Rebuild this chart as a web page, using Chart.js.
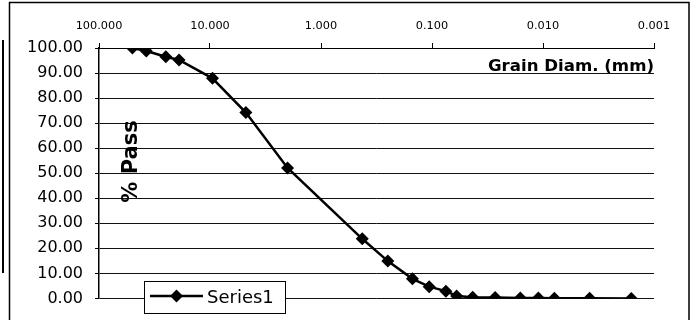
<!DOCTYPE html>
<html>
<head>
<meta charset="utf-8">
<script src="https://cdn.jsdelivr.net/npm/chart.js@4"></script>
<style>
  body { margin: 0; background: #fff; }
  canvas { display: block; }
</style>
</head>
<body>
<canvas id="gradationChart" width="691" height="320"></canvas>
<script>
// sieve sizes (mm) and percent passing
const grainSizes = [50, 37.5, 25, 19, 9.5, 4.75, 2.0, 0.425, 0.25, 0.15, 0.106, 0.075, 0.06, 0.043, 0.027, 0.016, 0.011, 0.0079, 0.0038, 0.0016]
const percentPass = [100, 98.8, 96.5, 95.2, 87.9, 74.2, 52.1, 23.8, 14.9, 7.8, 4.7, 2.9, 1.0, 0.5, 0.4, 0.2, 0.2, 0.1, 0.1, 0.0]
const xTickValues = [100, 10, 1, 0.1, 0.01, 0.001]
const yTickValues = [0, 10, 20, 30, 40, 50, 60, 70, 80, 90, 100]
const seriesName = 'Series1'
const xTitle = 'Grain Diam. (mm)'
const yTitle = '% Pass'

Chart.defaults.font.family = "'DejaVu Sans', sans-serif"
Chart.defaults.color = '#000'

// frame, titles inside the plot and the Excel-style legend box
const extrasPlugin = {
  id: 'extras',
  afterDraw(chart) {
    const ctx = chart.ctx
    ctx.save()

    // outer chart border
    ctx.strokeStyle = '#000'
    ctx.lineWidth = 1.5
    ctx.beginPath()
    ctx.moveTo(9.5, 330)
    ctx.lineTo(9.5, 2.5)
    ctx.lineTo(689, 2.5)
    ctx.lineTo(689, 330)
    ctx.stroke()

    // bit of the neighbouring table at the left edge
    ctx.lineWidth = 2
    ctx.beginPath()
    ctx.moveTo(3, 40)
    ctx.lineTo(3, 273)
    ctx.stroke()

    // x title
    ctx.fillStyle = '#000'
    ctx.font = "bold 16.6px 'DejaVu Sans'"
    ctx.textAlign = 'right'
    ctx.textBaseline = 'alphabetic'
    ctx.fillText(xTitle, 654, 71)

    // y title
    ctx.save()
    ctx.translate(137, 161.5)
    ctx.rotate(-Math.PI / 2)
    ctx.font = "bold 21px 'DejaVu Sans'"
    ctx.textAlign = 'center'
    ctx.fillText(yTitle, 0, 0)
    ctx.restore()

    // legend
    ctx.fillStyle = '#fff'
    ctx.fillRect(144.5, 281.5, 141, 32)
    ctx.lineWidth = 1
    ctx.strokeRect(144.5, 281.5, 141, 32)
    ctx.lineWidth = 2.5
    ctx.beginPath()
    ctx.moveTo(150, 296)
    ctx.lineTo(203, 296)
    ctx.stroke()
    ctx.fillStyle = '#000'
    ctx.beginPath()
    ctx.moveTo(170, 296)
    ctx.lineTo(176.5, 289.5)
    ctx.lineTo(183, 296)
    ctx.lineTo(176.5, 302.5)
    ctx.closePath()
    ctx.fill()
    ctx.font = "18px 'DejaVu Sans'"
    ctx.textAlign = 'left'
    ctx.fillText(seriesName, 207, 303)

    ctx.restore()
  }
}

const ctx = document.getElementById('gradationChart').getContext('2d')
const gradationChart = new Chart(ctx, {
  type: 'line',
  data: {
    datasets: [{
      label: seriesName,
      data: grainSizes.map((d, i) => ({ x: d, y: percentPass[i] })),
      borderColor: '#000',
      borderWidth: 2.5,
      backgroundColor: '#000',
      pointStyle: 'rectRot',
      pointRadius: 6.5,
      pointBorderWidth: 0,
      pointBackgroundColor: '#000',
      tension: 0,
      fill: false
    }]
  },
  options: {
    responsive: false,
    animation: false,
    layout: {
      padding: { left: 25, right: 37, top: 0, bottom: 21 }
    },
    plugins: {
      legend: { display: false },
      tooltip: { enabled: false }
    },
    scales: {
      x: {
        type: 'logarithmic',
        position: 'top',
        reverse: true,
        min: 0.001,
        max: 100,
        afterBuildTicks: scale => {
          scale.ticks = xTickValues.map(v => ({ value: v }))
        },
        afterFit: scale => {
          scale.height = 48
        },
        ticks: {
          autoSkip: false,
          maxRotation: 0,
          padding: 10,
          font: { size: 11.3 },
          callback: value => Number(value).toFixed(3)
        },
        grid: {
          drawOnChartArea: false,
          drawTicks: true,
          tickLength: 5,
          tickColor: '#000'
        },
        border: { display: true, color: '#000', width: 1 }
      },
      y: {
        min: 0,
        max: 100,
        afterBuildTicks: scale => {
          scale.ticks = yTickValues.map(v => ({ value: v }))
        },
        afterFit: scale => {
          scale.width = 74
        },
        ticks: {
          padding: 12,
          font: { size: 16 },
          callback: value => Number(value).toFixed(2)
        },
        grid: {
          color: '#111',
          lineWidth: 1,
          drawTicks: true,
          tickLength: 4,
          tickColor: '#000'
        },
        border: { display: true, color: '#000', width: 1.5 }
      }
    }
  },
  plugins: [extrasPlugin]
})
</script>
</body>
</html>
